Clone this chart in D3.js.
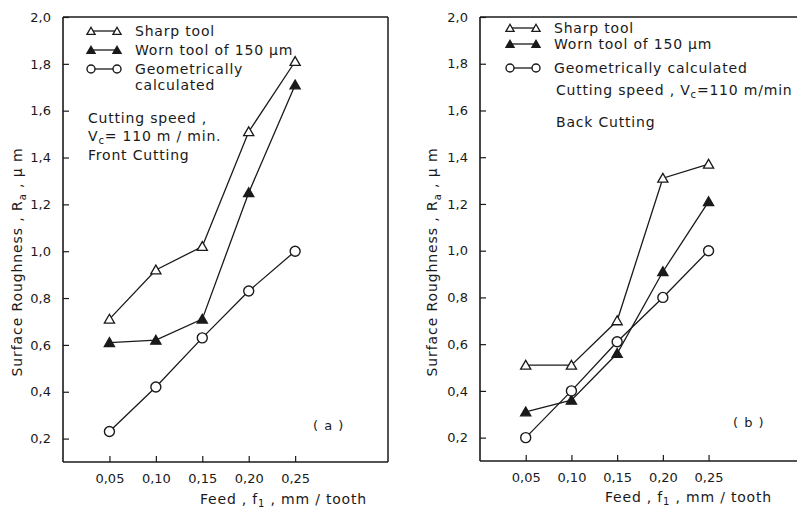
<!DOCTYPE html>
<html>
<head>
<meta charset="utf-8">
<script src="https://cdn.jsdelivr.net/npm/d3@7"></script>
<style>
  body { margin: 0; background: #fff; }
  svg text { font-family: "DejaVu Sans", sans-serif; fill: #1a1a1a; }
</style>
</head>
<body>
<div id="chart"></div>
<script>
// ---- data ----
const feed = [0.05, 0.10, 0.15, 0.20, 0.25];
const yTicks = [0.2, 0.4, 0.6, 0.8, 1.0, 1.2, 1.4, 1.6, 1.8, 2.0];

// (a) front cutting
const sharpFront = [0.71, 0.92, 1.02, 1.51, 1.81];
const wornFront = [0.61, 0.62, 0.71, 1.25, 1.71];
const geoFront = [0.23, 0.42, 0.63, 0.83, 1.00];

// (b) back cutting
const sharpBack = [0.51, 0.51, 0.70, 1.31, 1.37];
const wornBack = [0.31, 0.36, 0.56, 0.91, 1.21];
const geoBack = [0.20, 0.40, 0.61, 0.80, 1.00];

const seriesNames = ['Sharp tool', 'Worn tool of 150 \u03bcm', 'Geometrically calculated'];
const seriesSymbols = ['open-tri', 'filled-tri', 'circle'];

const width = 797, height = 512;
const ink = '#1a1a1a';

const svg = d3.select('#chart')
  .append('svg')
  .attr('width', width)
  .attr('height', height);

const fmt1 = d => d3.format('.1f')(d).replace('.', ',');
const fmt2 = d => d3.format('.2f')(d).replace('.', ',');

// draw a marker at (cx, cy), s = rough width in px
const drawMarker = (g, type, cx, cy, s) => {
  if (type === 'circle') {
    g.append('circle')
      .attr('cx', cx).attr('cy', cy).attr('r', s * 0.5)
      .attr('fill', '#fff').attr('stroke', ink).attr('stroke-width', 1.4);
  } else {
    const tri = d3.symbol().type(d3.symbolTriangle).size(s * s * 0.45);
    g.append('path')
      .attr('d', tri())
      .attr('transform', `translate(${cx},${cy + 1})`)
      .attr('fill', type === 'filled-tri' ? ink : '#fff')
      .attr('stroke', ink).attr('stroke-width', 1.3);
  }
};

const renderPanel = (p) => {
  const x = d3.scaleLinear().domain([0, 0.35]).range([p.left, p.right]);
  const y = d3.scaleLinear().domain([0.1, 2.0]).range([p.bottom, p.top]);
  const g = svg.append('g').attr('class', 'panel');

  // frame
  g.append('line').attr('x1', p.left).attr('x2', p.right).attr('y1', p.top).attr('y2', p.top)
    .attr('stroke', ink).attr('stroke-width', 1.5);
  if (p.frameRight) {
    g.append('line').attr('x1', p.right).attr('x2', p.right).attr('y1', p.top).attr('y2', p.bottom)
      .attr('stroke', ink).attr('stroke-width', 1.5);
  }

  // axes with inward ticks
  const yAxis = g.append('g')
    .attr('transform', `translate(${p.left},0)`)
    .call(d3.axisLeft(y).tickValues(yTicks).tickSize(-6).tickPadding(12).tickFormat(fmt1));
  const xAxis = g.append('g')
    .attr('transform', `translate(0,${p.bottom})`)
    .call(d3.axisBottom(x).tickValues(feed).tickSize(-6).tickPadding(12).tickFormat(fmt2));
  [yAxis, xAxis].forEach(a => {
    a.select('.domain').attr('stroke', ink).attr('stroke-width', 1.6);
    a.selectAll('.tick line').attr('stroke', ink).attr('stroke-width', 1.2);
    a.selectAll('.tick text').attr('font-size', 13).attr('fill', ink)
      .style('font-family', '"DejaVu Sans", sans-serif');
  });
  xAxis.select('.domain').attr('d', `M${p.left},0H${p.right}`);
  yAxis.select('.domain').attr('d', `M0,${p.bottom}V${p.top}`);

  // series
  p.series.forEach((vals, i) => {
    const pts = feed.map((f, j) => [x(f), y(vals[j])]);
    g.append('path')
      .attr('d', d3.line()(pts))
      .attr('fill', 'none').attr('stroke', ink).attr('stroke-width', 1.3);
    pts.forEach(pt => drawMarker(g, seriesSymbols[i], pt[0], pt[1], 10));
  });

  // axis titles
  const yt = g.append('text')
    .attr('transform', `translate(${p.yTitleX},${p.yTitleY}) rotate(-90)`)
    .attr('text-anchor', 'middle').attr('font-size', 14).attr('letter-spacing', 0.9);
  yt.append('tspan').text('Surface  Roughness , R');
  yt.append('tspan').attr('font-size', 10).attr('dy', 4).text('a');
  yt.append('tspan').attr('dy', -4).text(' , \u03bc m');

  const xt = g.append('text')
    .attr('x', p.xTitleX).attr('y', p.xTitleY)
    .attr('font-size', 14).attr('letter-spacing', 0.8);
  xt.append('tspan').text('Feed , f');
  xt.append('tspan').attr('font-size', 10).attr('dy', 3).text('1');
  xt.append('tspan').attr('dy', -3).text(' , mm / tooth');

  // legend
  const lg = g.append('g');
  p.legendRows.forEach((row, i) => {
    const ly = p.legendY[i];
    lg.append('line').attr('x1', p.legendX).attr('x2', p.legendX + 26)
      .attr('y1', ly).attr('y2', ly).attr('stroke', ink).attr('stroke-width', 1.3);
    drawMarker(lg, seriesSymbols[i], p.legendX, ly, 8);
    drawMarker(lg, seriesSymbols[i], p.legendX + 26, ly, 8);
    row.forEach((t, k) => {
      lg.append('text').attr('x', p.legendX + 44).attr('y', ly + 5 + k * 16)
        .attr('font-size', 14).attr('letter-spacing', 0.8).text(t);
    });
  });
  p.notes.forEach(n => {
    const t = lg.append('text').attr('x', n.x).attr('y', n.y)
      .attr('font-size', 14).attr('letter-spacing', 0.8);
    n.parts.forEach(part => {
      const s = t.append('tspan').text(part.t);
      if (part.sub) s.attr('font-size', 10).attr('dy', 3);
      if (part.up) s.attr('dy', -3);
    });
  });

  g.append('text').attr('x', p.tagX).attr('y', p.tagY)
    .attr('font-size', 13).attr('letter-spacing', 1).text(p.tag);
};

renderPanel({
  left: 63, right: 388, top: 17, bottom: 462, frameRight: true,
  series: [sharpFront, wornFront, geoFront],
  yTitleX: 22, yTitleY: 262, xTitleX: 200, xTitleY: 504,
  legendX: 91, legendY: [31, 50, 69],
  legendRows: [[seriesNames[0]], [seriesNames[1]], ['Geometrically', 'calculated']],
  notes: [
    { x: 88, y: 123, parts: [{ t: 'Cutting speed ,' }] },
    { x: 88, y: 141, parts: [{ t: 'V' }, { t: 'c', sub: true }, { t: '= 110 m / min.', up: true }] },
    { x: 88, y: 160, parts: [{ t: 'Front  Cutting' }] }
  ],
  tag: '( a )', tagX: 313, tagY: 430
});

renderPanel({
  left: 480, right: 800, top: 17, bottom: 461, frameRight: false,
  series: [sharpBack, wornBack, geoBack],
  yTitleX: 437, yTitleY: 262, xTitleX: 605, xTitleY: 502,
  legendX: 510, legendY: [28, 44, 68],
  legendRows: [[seriesNames[0]], [seriesNames[1]], [seriesNames[2]]],
  notes: [
    { x: 556, y: 95, parts: [{ t: 'Cutting  speed , V' }, { t: 'c', sub: true }, { t: '=110 m/min', up: true }] },
    { x: 556, y: 127, parts: [{ t: 'Back  Cutting' }] }
  ],
  tag: '( b )', tagX: 733, tagY: 427
});
</script>
</body>
</html>
